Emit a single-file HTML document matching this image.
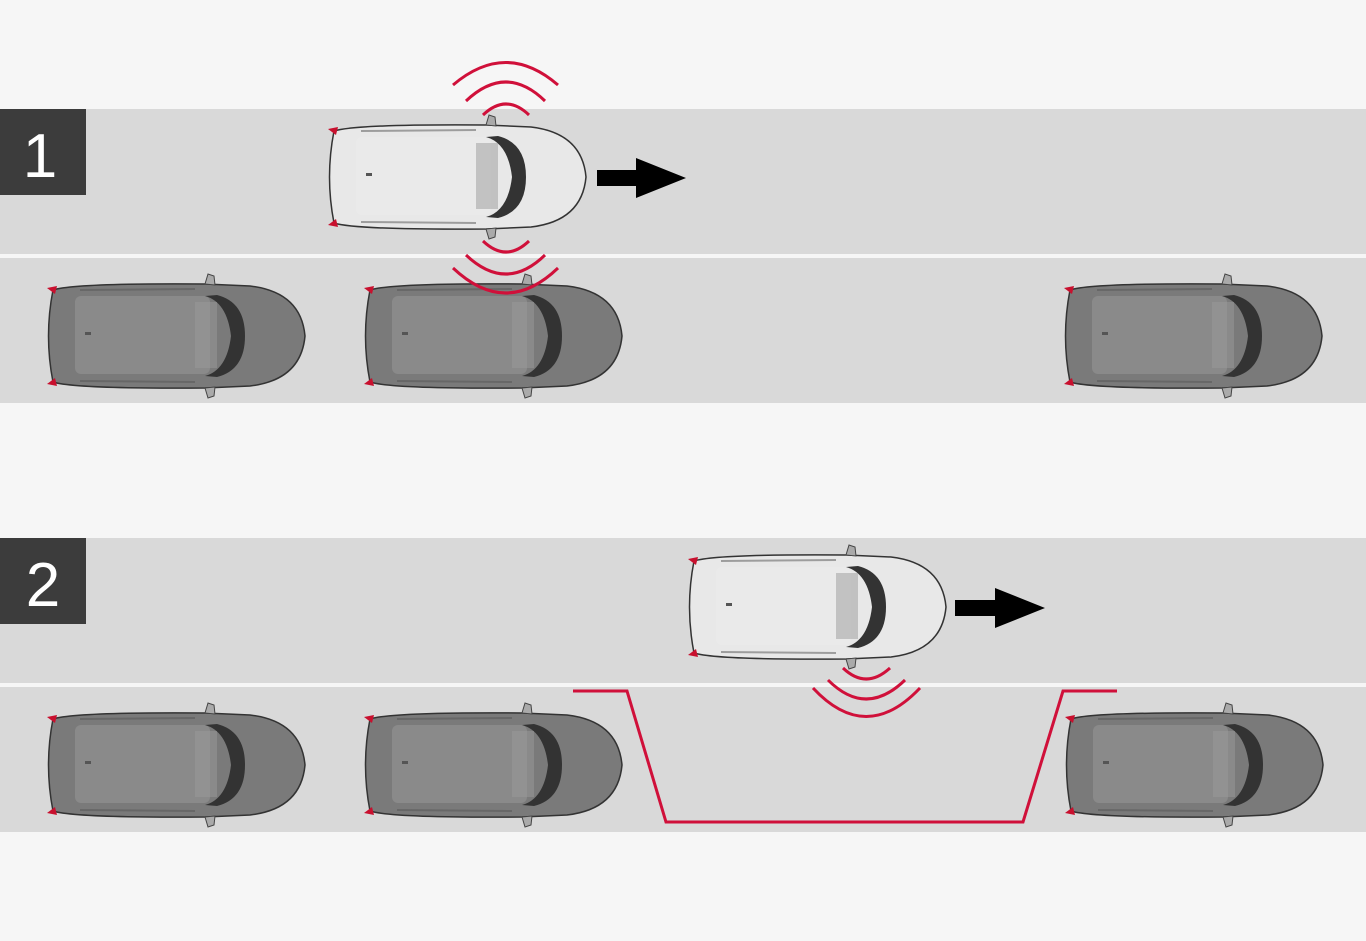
<!DOCTYPE html>
<html><head><style>
html,body{margin:0;padding:0;background:#f6f6f6;}
svg{display:block;}
</style></head><body>
<svg width="1366" height="941" viewBox="0 0 1366 941" xmlns="http://www.w3.org/2000/svg">
<defs>
<g id="car">
  <path d="M8,8 Q30,1 160,2 L205,4 Q256,10 260,54 Q256,98 205,104 L160,106 Q30,107 8,100 Q-1,54 8,8 Z" fill="inherit" stroke="#333" stroke-width="1.5"/>
  <rect x="30" y="14" width="135" height="78" rx="6" fill="#fff" opacity="0.12"/>
  <path d="M160,14 Q182,20 186,54 Q182,88 160,94 L172,95 Q200,88 200,54 Q200,20 172,13 Z" fill="#333"/>
  <rect x="150" y="20" width="22" height="66" fill="#999" opacity="0.5"/>
  <path d="M2,6 L12,4 L10,12 Z M2,102 L12,104 L10,96 Z" fill="#c8102e"/>
  <rect x="40" y="50" width="6" height="3" fill="#555"/>
  <path d="M160,2 L163,-8 L169,-6 L170,3 Z M160,106 L163,116 L169,114 L170,105 Z" fill="#aaa" stroke="#444" stroke-width="1"/>
  <path d="M35,8 L150,7 M35,99 L150,100" stroke="#555" stroke-width="2" opacity="0.5"/>
</g>
</defs>
<rect width="1366" height="941" fill="#f6f6f6"/>
<rect x="0" y="109" width="1366" height="145" fill="#d9d9d9"/>
<rect x="0" y="258" width="1366" height="145" fill="#d9d9d9"/>
<rect x="0" y="538" width="1366" height="145" fill="#d9d9d9"/>
<rect x="0" y="687" width="1366" height="145" fill="#d9d9d9"/>
<rect x="0" y="109" width="86" height="86" fill="#3c3c3c"/>
<rect x="0" y="538" width="86" height="86" fill="#3c3c3c"/>
<text x="40" y="177" font-family="Liberation Sans, sans-serif" font-size="62" fill="#fff" text-anchor="middle">1</text>
<text x="43" y="606" font-family="Liberation Sans, sans-serif" font-size="62" fill="#fff" text-anchor="middle">2</text>

<g fill="#7a7a7a">
<use href="#car" x="45" y="282"/>
<use href="#car" x="362" y="282"/>
<use href="#car" x="1062" y="282"/>
<use href="#car" x="45" y="711"/>
<use href="#car" x="362" y="711"/>
<use href="#car" x="1063" y="711"/>
</g>
<g fill="#e8e8e8">
<use href="#car" x="326" y="123"/>
<use href="#car" x="686" y="553"/>
</g>

<g fill="none" stroke="#d0103a" stroke-width="3">
<path d="M453,85 Q506,40 558,85"/>
<path d="M466,101 Q506,63 545,101"/>
<path d="M483,115 Q506,93 529,115"/>
<path d="M483,241 Q506,263 529,241"/>
<path d="M466,255 Q506,293 545,255"/>
<path d="M453,268 Q506,318 558,268"/>
<path d="M843,668 Q866,690 890,668"/>
<path d="M828,680 Q866,718 905,680"/>
<path d="M813,688 Q866,745 920,688"/>
<path d="M573,691 L627,691 L666,822 L1023,822 L1063,691 L1117,691"/>
</g>

<path d="M597,170 L636,170 L636,158 L686,178 L636,198 L636,186 L597,186 Z" fill="#000"/>
<path d="M955,600 L995,600 L995,588 L1045,608 L995,628 L995,616 L955,616 Z" fill="#000"/>
</svg>
</body></html>
